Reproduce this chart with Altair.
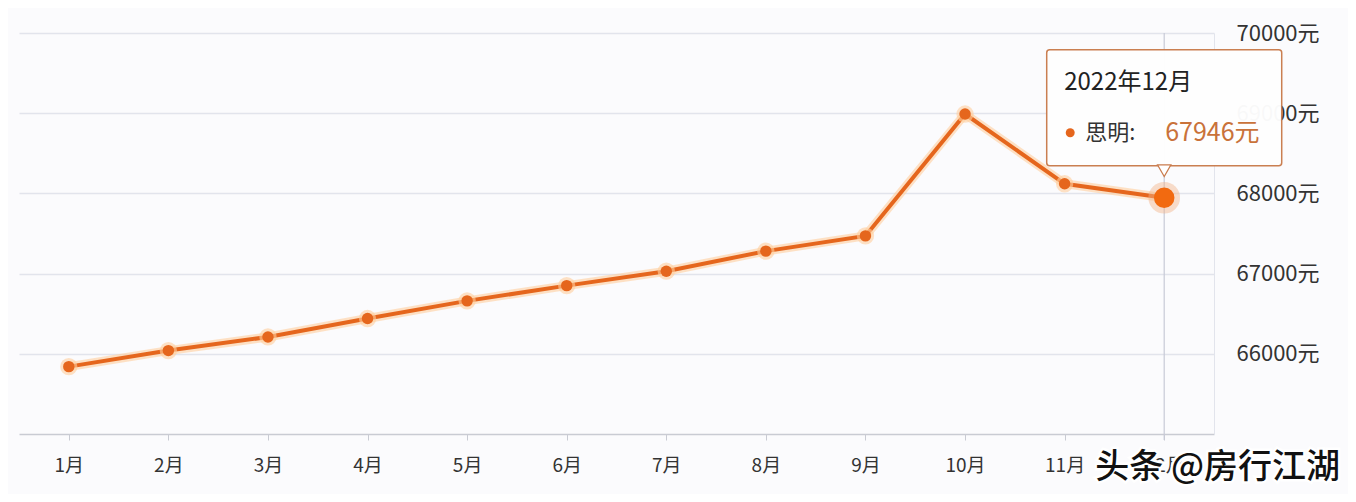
import altair as alt
import pandas as pd

months = ["1月", "2月", "3月", "4月", "5月", "6月", "7月", "8月", "9月", "10月", "11月", "12月"]
prices = [65840, 66040, 66210, 66440, 66660, 66850, 67030, 67280, 67470, 68990, 68120, 67946]
y_ticks = [66000, 67000, 68000, 69000, 70000]
y_domain = [65000, 70000]
highlight = "12月"
tooltip_title = "2022年12月"
series_name = "思明:"
watermark = "头条 @房行江湖"

df = pd.DataFrame({"month": months, "price": prices})
hl = df[df["month"] == highlight].copy()
hl["title"] = tooltip_title
hl["name"] = series_name
hl["label"] = hl["price"].astype(str) + "元"
wm = pd.DataFrame({"t": [watermark]})

W, H = 1195, 401
ORANGE = "#e5661d"
FONT = "Noto Sans CJK SC"

x_scale = alt.Scale(type="point", padding=0.5, domain=months)
x_enc = alt.X(
    "month:N", sort=months, scale=x_scale,
    axis=alt.Axis(title=None, labelAngle=0, labelAlign="center", grid=False, ticks=True,
                  tickSize=6, tickColor="#c9cbd3", domainColor="#c9cbd3", domainWidth=1.5,
                  labelColor="#333333", labelFontSize=19, labelFont=FONT,
                  labelPadding=25),
)
y_enc = alt.Y(
    "price:Q",
    scale=alt.Scale(domain=y_domain, nice=False, zero=False),
    axis=alt.Axis(title=None, orient="right", values=y_ticks, labelExpr="datum.value + '元'",
                  ticks=False, domain=True, domainColor="#e2e4ec", gridColor="#e2e4ec",
                  gridWidth=1.5, labelColor="#333333", labelFontSize=22, labelFont=FONT,
                  labelPadding=22, labelAlign="left", labelBaseline="middle"),
)

base = alt.Chart(df).encode(x=x_enc, y=y_enc)

crosshair = alt.Chart(hl).mark_rule(color="#c8cad6", strokeWidth=1.2).encode(
    x=alt.X("month:N", sort=months, scale=x_scale),
    y=alt.value(0), y2=alt.value(H + 6),
)

glow = base.mark_line(color="#ffcf9e", strokeWidth=9, opacity=0.6)
line = base.mark_line(color=ORANGE, strokeWidth=4)
pt_glow = base.mark_point(filled=True, color="#ffcf9e", size=300, opacity=0.6)
pts = base.mark_point(filled=True, color=ORANGE, size=130, opacity=1)

hbase = alt.Chart(hl).encode(x=x_enc, y=y_enc)
halo = hbase.mark_point(filled=True, color="#f2b48a", size=1000, opacity=0.45)
big = hbase.mark_point(filled=True, color="#f26a10", size=420, opacity=1)

box = hbase.mark_rect(width=235, height=116, yOffset=-90, fill="white", stroke="#c97b4c",
                      strokeWidth=1.5, cornerRadius=3, opacity=0.97)
pointer = hbase.mark_point(shape="triangle-down", filled=True, fill="white", stroke="#c97b4c",
                           strokeWidth=1.2, size=180, yOffset=-27, opacity=1)
t_title = hbase.mark_text(align="left", baseline="middle", dx=-100, dy=-115, fontSize=24,
                          font=FONT, color="#222222").encode(text="title:N")
t_dot = hbase.mark_point(filled=True, color=ORANGE, size=80, xOffset=-94, yOffset=-65, opacity=1)
t_name = hbase.mark_text(align="left", baseline="middle", dx=-79, dy=-65, fontSize=22,
                         font=FONT, color="#333333").encode(text="name:N")
t_val = hbase.mark_text(align="left", baseline="middle", dx=1, dy=-65, fontSize=25,
                        font=FONT, color="#c9723a").encode(text="label:N")

wm_bg = alt.Chart(wm).mark_text(align="right", baseline="middle", fontSize=34, font=FONT,
                                fontWeight=500, color="white", stroke="white",
                                strokeWidth=5).encode(
    text="t:N", x=alt.value(1321), y=alt.value(H + 34))
wm_fg = alt.Chart(wm).mark_text(align="right", baseline="middle", fontSize=34, font=FONT,
                                fontWeight=500, color="#111111").encode(
    text="t:N", x=alt.value(1321), y=alt.value(H + 34))

chart = alt.layer(
    crosshair, glow, line, pt_glow, pts, halo, big, box, pointer,
    t_title, t_dot, t_name, t_val, wm_bg, wm_fg
).properties(
    width=W, height=H,
    autosize=alt.AutoSizeParams(type="none"),
    padding={"left": 11, "top": 25, "right": 134, "bottom": 60},
    background="#fbfbfd",
).configure_view(stroke=None)

chart.save("out.html", embed_options={"renderer": "svg", "actions": False})
